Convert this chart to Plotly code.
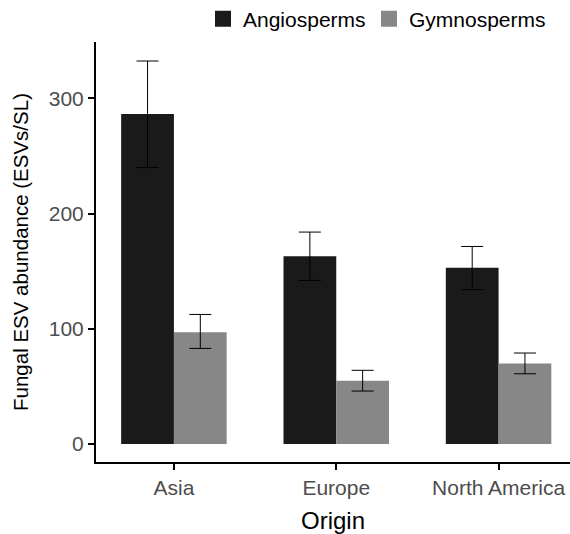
import plotly.graph_objects as go

origins = ["Asia", "Europe", "North America"]
angio = [286.5, 163, 153]
angio_hi = [332.5, 184, 171.5]
angio_lo = [240, 142, 134]
gymno = [97, 55, 70]
gymno_hi = [112.5, 64, 79]
gymno_lo = [83, 46, 61]

def errs(v, hi, lo):
    return [h - x for x, h in zip(v, hi)], [x - l for x, l in zip(v, lo)]

fig = go.Figure()
series = [
    ("Angiosperms", angio, angio_hi, angio_lo, "#1a1a1a", "legend"),
    ("Gymnosperms", gymno, gymno_hi, gymno_lo, "#878787", "legend2"),
]
for name, vals, hi, lo, col, leg in series:
    up, dn = errs(vals, hi, lo)
    fig.add_trace(go.Bar(
        x=origins, y=vals, name=name, showlegend=False,
        marker=dict(color=col, line=dict(width=0)),
        error_y=dict(type="data", array=up, arrayminus=dn, symmetric=False,
                     color="black", thickness=1, width=11),
    ))
for name, vals, hi, lo, col, leg in series:
    # legend-only entry with a larger square key
    fig.add_trace(go.Scatter(
        x=[None], y=[None], mode="markers", name=name, legend=leg,
        marker=dict(symbol="square", size=16, color=col),
    ))

legend_common = dict(orientation="h", yanchor="middle", y=1.0548, xanchor="left",
                     font=dict(size=21, color="black"), itemsizing="trace",
                     bgcolor="rgba(0,0,0,0)")

fig.update_layout(
    width=570, height=534,
    barmode="group", bargap=0.35, bargroupgap=0,
    plot_bgcolor="white", paper_bgcolor="white",
    margin=dict(l=96, r=0, t=42, b=72, autoexpand=False),
    font=dict(family="Liberation Sans, Arial, sans-serif", color="black"),
    legend=dict(x=(217 - 14 - 96) / 474, **legend_common),
    legend2=dict(x=(383 - 14 - 96) / 474, **legend_common),
    xaxis=dict(range=[-0.48, 2.44], showline=True, linecolor="black", linewidth=2,
               ticks="outside", ticklen=6, tickcolor="black", tickwidth=2,
               tickfont=dict(size=21, color="#4d4d4d"), automargin=False,
               title=dict(text="Origin", font=dict(size=24, color="black"), standoff=16),
               showgrid=False, zeroline=False),
    yaxis=dict(range=[-15.6, 349], showline=True, linecolor="black", linewidth=2,
               ticks="outside", ticklen=6, tickcolor="black", tickwidth=2,
               tickvals=[0, 100, 200, 300], automargin=False,
               tickfont=dict(size=21, color="#4d4d4d"),
               title=dict(text="Fungal ESV abundance (ESVs/SL)", font=dict(size=20.5, color="black"), standoff=15),
               showgrid=False, zeroline=False),
)

fig.write_html(
    "out.html",
    config={"displayModeBar": False},
    post_script="document.body.style.margin='0';document.body.style.overflow='hidden';"
                "document.documentElement.style.overflow='hidden';",
)
